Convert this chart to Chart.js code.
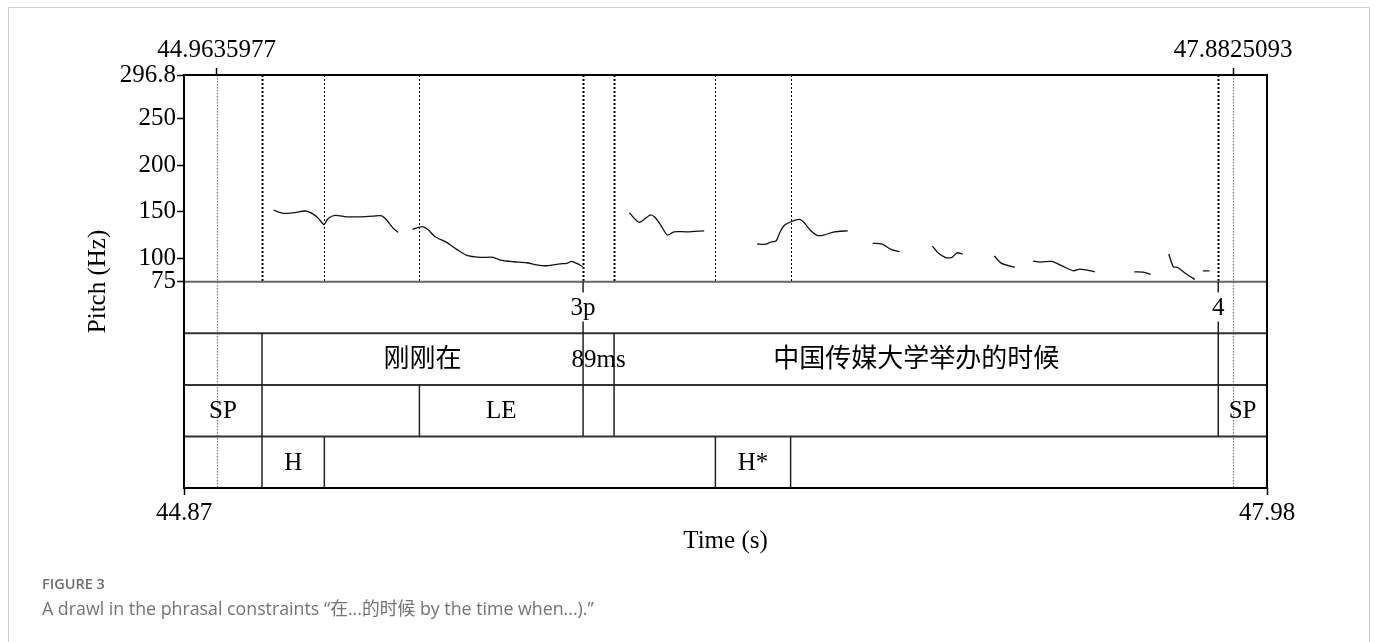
<!DOCTYPE html>
<html>
<head>
<meta charset="utf-8">
<script src="https://cdn.jsdelivr.net/npm/chart.js@4.4.1/dist/chart.umd.min.js"></script>
<style>
  html, body { margin: 0; padding: 0; background: #fff; }
  body { width: 1375px; height: 642px; position: relative; overflow: hidden; }
  #card { position: absolute; left: 8px; top: 7px; width: 1362px; height: 700px; border: 1px solid #cfcfcf; box-sizing: border-box; }
  #chartBox { position: absolute; left: 0; top: 0; width: 1375px; height: 642px; }
  .fig { position: absolute; left: 42px; top: 574px; font: 600 14.5px/19px "Open Sans", sans-serif; color: #6e6e6e; }
  .cap { position: absolute; left: 42px; top: 596px; font: 17.8px/24px "Open Sans", "Noto Sans CJK SC", sans-serif; color: #737373; white-space: nowrap; }
</style>
</head>
<body>
<div id="card"></div>
<div id="chartBox"><canvas id="pitchChart" width="1375" height="642"></canvas></div>
<div class="fig">FIGURE 3</div>
<div class="cap">A drawl in the phrasal constraints “在...的时候 by the time when...).”</div>
<script>
// axis ranges and tick values
const timeRange = [44.87, 47.98];
const pitchRange = [75, 296.8];
const pitchTicks = [75, 100, 150, 200, 250, 296.8];
const cursorTimes = [44.9635977, 47.8825093];

// pitch track (s / Hz), null = unvoiced gap
const pitchTimes = [
  45.127, 45.155, 45.184, 45.218, 45.241, 45.256, 45.272, 45.284, 45.304, 45.337, 45.376, 45.414, 45.438, 45.452, 45.471, 45.485, null,
  45.526, 45.540, 45.557, 45.572, 45.591, 45.624, 45.653, 45.682, 45.720, 45.758, 45.778, 45.816, 45.854, 45.883, 45.912, 45.950, 45.969, 45.983, 45.998, 46.015, null,
  46.149, 46.177, 46.208, 46.221, 46.239, 46.258, 46.277, 46.314, 46.364, null,
  46.516, 46.539, 46.557, 46.570, 46.582, 46.595, 46.613, 46.638, 46.651, 46.670, 46.688, 46.707, 46.738, 46.776, null,
  46.848, 46.875, 46.900, 46.925, null,
  47.019, 47.037, 47.056, 47.075, 47.090, 47.106, null,
  47.197, 47.218, 47.256, null,
  47.308, 47.330, 47.362, 47.393, 47.424, 47.443, 47.486, null,
  47.599, 47.624, 47.646, null,
  47.698, 47.711, 47.723, 47.748, 47.773, null,
  47.796, 47.815
];
const pitchHz = [
  151.9, 148.4, 149.0, 150.9, 147.6, 143.0, 136.6, 143.0, 146.2, 144.7, 144.7, 145.5, 145.8, 141.2, 132.3, 128.0, null,
  131.2, 133.0, 134.0, 130.5, 123.3, 117.3, 109.8, 103.3, 101.2, 101.2, 98.3, 96.5, 95.4, 93.2, 92.2, 94.3, 94.7, 96.9, 94.7, 91.1, null,
  149.0, 138.7, 146.6, 144.7, 135.8, 125.1, 128.6, 128.6, 129.7, null,
  115.5, 115.1, 117.9, 118.7, 128.6, 135.8, 139.4, 141.9, 138.3, 129.7, 124.8, 125.1, 128.6, 129.7, null,
  116.2, 115.5, 109.8, 107.2, null,
  113.3, 105.5, 101.2, 101.2, 106.1, 104.7, null,
  102.6, 94.7, 90.4, null,
  97.2, 96.1, 96.9, 91.8, 86.8, 88.6, 85.7, null,
  85.7, 85.4, 82.9, null,
  104.7, 91.1, 90.4, 83.3, 77.6, null,
  86.8, 86.8
];

// TextGrid tiers, top to bottom
const pointTimes = [46.016, 47.840];
const pointLabels = ['3p', '4'];
const wordBounds = [45.094, 46.016, 46.105, 47.840];
const wordLabels = ['', '刚刚在', '89ms', '中国传媒大学举办的时候', ''];
const breakBounds = [45.094, 45.546, 46.016, 46.105, 47.840];
const breakLabels = ['SP', '', 'LE', '', '', 'SP'];
const toneBounds = [45.094, 45.273, 46.396, 46.612];
const toneLabels = ['', 'H', '', 'H*', ''];

// each tier gets the same height, expressed in Hz units of the y scale
const TIER_H = 55.3;
const yMin = pitchRange[0] - 4 * TIER_H;

const FONT = '"Liberation Serif", "Noto Sans CJK SC", serif';
Chart.defaults.font.family = FONT;
Chart.defaults.font.size = 25;
Chart.defaults.color = '#000';

const tierPlugin = {
  id: 'tiers',
  afterDatasetsDraw(chart) {
    const { ctx, chartArea: a, scales: { x, y } } = chart;
    const tiers = [
      { point: true, times: pointTimes, labels: pointLabels },
      { times: wordBounds, labels: wordLabels },
      { times: breakBounds, labels: breakLabels },
      { times: toneBounds, labels: toneLabels }
    ];
    const rowY = k => y.getPixelForValue(pitchRange[0] - k * TIER_H);
    const line = (x1, y1, x2, y2) => { ctx.beginPath(); ctx.moveTo(x1, y1); ctx.lineTo(x2, y2); ctx.stroke(); };
    const label = (txt, cx, cy) => {
      // Chinese glyphs come out a bit small in the fallback font
      ctx.font = (/[\u4e00-\u9fff]/.test(txt) ? '26px ' : '25px ') + FONT;
      ctx.fillText(txt, cx, cy);
    };
    ctx.save();

    // boundaries continued as dotted lines over the pitch area
    const counts = new Map();
    tiers.forEach(t => t.times.forEach(v => counts.set(v, (counts.get(v) || 0) + 1)));
    ctx.strokeStyle = '#000';
    ctx.setLineDash([2, 2]);
    counts.forEach((n, t) => {
      const px = Math.round(x.getPixelForValue(t)) + 0.5;
      ctx.lineWidth = n > 1 ? 2 : 1;
      line(px, a.top, px, rowY(0));
    });

    // selection cursors
    ctx.strokeStyle = '#777';
    ctx.lineWidth = 1.2;
    ctx.setLineDash([1.5, 1.5]);
    cursorTimes.forEach(t => {
      const px = Math.round(x.getPixelForValue(t)) + 0.5;
      line(px, a.top, px, a.bottom);
    });
    ctx.setLineDash([]);

    // horizontal tier separators
    ctx.strokeStyle = '#666';
    ctx.lineWidth = 2;
    line(a.left, rowY(0), a.right, rowY(0));
    ctx.strokeStyle = '#333';
    for (let k = 1; k < 4; k++) line(a.left, rowY(k), a.right, rowY(k));

    ctx.fillStyle = '#000';
    ctx.textAlign = 'center';
    ctx.textBaseline = 'middle';
    tiers.forEach((tier, k) => {
      const top = rowY(k), bot = rowY(k + 1), mid = (top + bot) / 2;
      ctx.strokeStyle = '#222';
      ctx.lineWidth = 1.5;
      if (tier.point) {
        tier.times.forEach((t, i) => {
          const px = x.getPixelForValue(t);
          line(px, top, px, mid - 15);
          line(px, mid + 14, px, bot);
          label(tier.labels[i], px, mid + 1);
        });
      } else {
        const edges = [timeRange[0], ...tier.times, timeRange[1]];
        tier.times.forEach(t => {
          const px = x.getPixelForValue(t);
          line(px, top, px, bot);
        });
        tier.labels.forEach((lab, i) => {
          if (!lab) return;
          const cx = (x.getPixelForValue(edges[i]) + x.getPixelForValue(edges[i + 1])) / 2;
          label(lab, cx, mid + 1);
        });
      }
    });

    // frame
    ctx.strokeStyle = '#000';
    ctx.lineWidth = 2;
    ctx.strokeRect(a.left, a.top, a.right - a.left, a.bottom - a.top);
    ctx.restore();
  }
};

const tickGrid = { drawOnChartArea: false, drawTicks: true, tickLength: 7, tickColor: '#000', tickWidth: 1.5 };

new Chart(document.getElementById('pitchChart'), {
  type: 'line',
  data: {
    datasets: [{
      data: pitchTimes.map((t, i) => ({ x: t, y: pitchHz[i] })),
      borderColor: '#111',
      borderWidth: 1.3,
      pointRadius: 0,
      tension: 0.25,
      spanGaps: false,
      xAxisID: 'x',
      yAxisID: 'y'
    }]
  },
  options: {
    responsive: false,
    animation: false,
    events: [],
    layout: { padding: { left: 0, top: 0, right: 108, bottom: 0 } },
    plugins: { legend: { display: false }, tooltip: { enabled: false } },
    scales: {
      x: {
        type: 'linear', position: 'bottom',
        min: timeRange[0], max: timeRange[1],
        afterBuildTicks: s => { s.ticks = timeRange.map(v => ({ value: v })); },
        ticks: { autoSkip: false, maxRotation: 0, padding: 3, callback: v => String(v) },
        grid: tickGrid,
        border: { display: false },
        title: { display: true, text: 'Time (s)', padding: { top: 0, bottom: 86 } },
        afterFit: s => { s.height = 154; }
      },
      x2: {
        type: 'linear', position: 'top',
        min: timeRange[0], max: timeRange[1],
        afterBuildTicks: s => { s.ticks = cursorTimes.map(v => ({ value: v })); },
        ticks: { autoSkip: false, maxRotation: 0, padding: 3, callback: v => String(v) },
        grid: tickGrid,
        border: { display: false },
        afterFit: s => { s.height = 75; }
      },
      y: {
        type: 'linear', position: 'left',
        min: yMin, max: pitchRange[1],
        afterBuildTicks: s => { s.ticks = pitchTicks.map(v => ({ value: v })); },
        ticks: { autoSkip: false, padding: 1, callback: v => String(v) },
        grid: tickGrid,
        border: { display: false },
        title: { display: true, text: 'Pitch (Hz)', padding: { top: 83, bottom: 0 } },
        afterFit: s => { s.width = 184; }
      }
    }
  },
  plugins: [tierPlugin]
});
</script>
</body>
</html>
